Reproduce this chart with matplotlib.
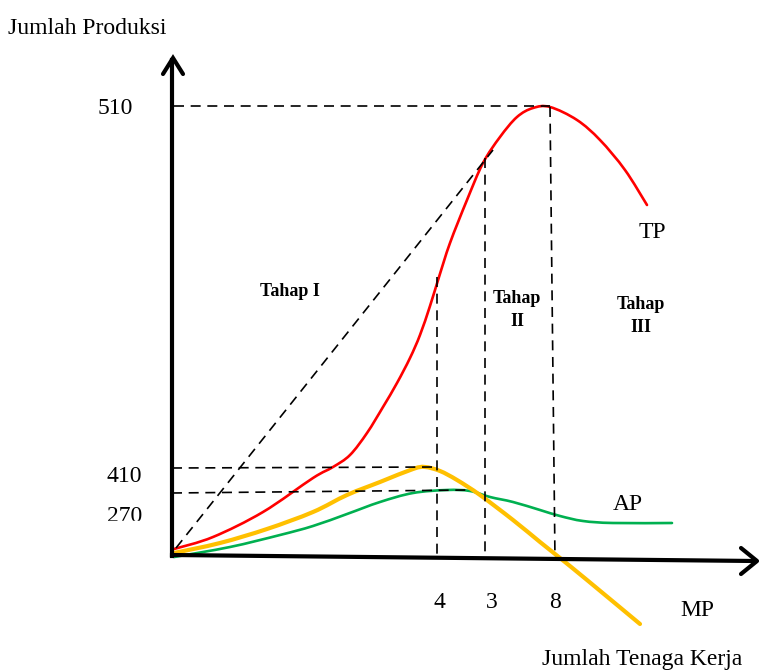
import numpy as np
import matplotlib.pyplot as plt
from matplotlib.path import Path
from matplotlib.patches import PathPatch, Rectangle

# diagram drawn in a pixel-like coordinate space (x right, y down)
tp_x = [174, 213, 263, 313, 333, 350, 367, 383, 397, 410, 420, 430, 439, 450, 467, 483, 500, 517, 533, 550, 577, 600, 625, 647]
tp_y = [549, 537, 512, 478, 467, 455, 433, 407, 383, 358, 335, 306, 277, 243, 200, 163, 137, 117, 108, 107, 120, 140, 170, 205]

mp_x = [174, 220, 267, 313, 347, 380, 413, 425, 440, 457, 480, 513, 540, 560, 587, 640]
mp_y = [553, 543, 529, 512, 495, 482, 469, 467, 471, 480, 495, 520, 542, 558, 580, 624]

ap_x = [174, 230, 280, 313, 347, 380, 413, 447, 470, 490, 513, 540, 560, 583, 613, 672]
ap_y = [557, 547, 535, 526, 514, 502, 493, 490, 491, 497, 502, 510, 516, 521, 523, 523]

y_ticks = ["510", "410", "270"]
y_tick_pos = [108, 476, 516]
x_ticks = ["4", "3", "8"]
x_tick_pos = [439, 492, 555]
stages = ["Tahap I", "Tahap\nII", "Tahap\nIII"]
stage_pos = [(290, 292), (517, 310), (641, 316)]

plt.rcParams['font.family'] = ['Liberation Serif', 'DejaVu Serif']


def smooth_path(xs, ys):
    # Catmull-Rom through the read points, drawn as cubic Bezier segments
    p = np.column_stack([xs, ys]).astype(float)
    p = np.vstack([p[0], p, p[-1]])
    verts = [p[1]]
    codes = [Path.MOVETO]
    for i in range(1, len(p) - 2):
        c1 = p[i] + (p[i + 1] - p[i - 1]) / 6
        c2 = p[i + 1] - (p[i + 2] - p[i]) / 6
        verts += [c1, c2, p[i + 1]]
        codes += [Path.CURVE4] * 3
    return Path(verts, codes)


def curve(ax, xs, ys, color, lw):
    ax.add_patch(PathPatch(smooth_path(xs, ys), fill=False, edgecolor=color,
                           lw=lw, capstyle='round', joinstyle='round'))


fig = plt.figure(figsize=(7.61, 6.71), dpi=100)
ax = fig.add_axes([0, 0, 1, 1])
ax.set_xlim(0, 761)
ax.set_ylim(671, 0)
ax.axis('off')

dash = dict(color='black', lw=1.2, ls=(0, (6, 4)))

# guide lines
ax.plot([174, 550], [106, 106], **dash)
ax.plot([172, 435], [468, 467], **dash)
ax.plot([172, 470], [493, 490], **dash)
ax.plot([176, 493], [548, 150], **dash)
ax.plot([437, 437], [277, 558], **dash)
ax.plot([485, 485], [158, 560], **dash)
ax.plot([550, 555], [107, 560], **dash)

# curves
curve(ax, ap_x, ap_y, '#00B050', 1.9)
curve(ax, tp_x, tp_y, '#FF0000', 1.9)
curve(ax, mp_x, mp_y, '#FFC000', 3.0)

# axes with open arrowheads
ax.plot([172, 172], [556, 60], color='black', lw=3.0)
ax.plot([163, 173, 183], [74, 58, 74], color='black', lw=3.0,
        solid_joinstyle='miter', solid_capstyle='round')
ax.plot([172, 755], [555, 561], color='black', lw=3.0)
ax.plot([741, 757, 741], [548, 561, 574], color='black', lw=3.0,
        solid_capstyle='round')

# text
ax.text(8, 28, "Jumlah Produksi", fontsize=17, ha='left', va='center')
ax.text(542, 660, "Jumlah Tenaga Kerja", fontsize=17, ha='left', va='center')
for lab, yp in zip(y_ticks, y_tick_pos):
    xr = 133 if lab == "510" else 142
    ax.text(xr, yp, lab, fontsize=17, ha='right', va='center')
# bottom of the 270 label is cut off in the original
ax.add_patch(Rectangle((100, 521), 45, 14, color='white', zorder=5))
for lab, xp in zip(x_ticks, x_tick_pos):
    ax.text(xp, 603, lab, fontsize=17, ha='center', va='center')
for lab, (sx, sy) in zip(stages, stage_pos):
    ax.text(sx, sy, lab, fontsize=13, fontweight='bold', ha='center',
            va='center', linespacing=1.5)
ax.text(652, 232, "TP", fontsize=17, ha='center', va='center')
ax.text(628, 505, "AP", fontsize=17, ha='center', va='center')
ax.text(697, 611, "MP", fontsize=17, ha='center', va='center')

fig.savefig("out.png", dpi=100)
